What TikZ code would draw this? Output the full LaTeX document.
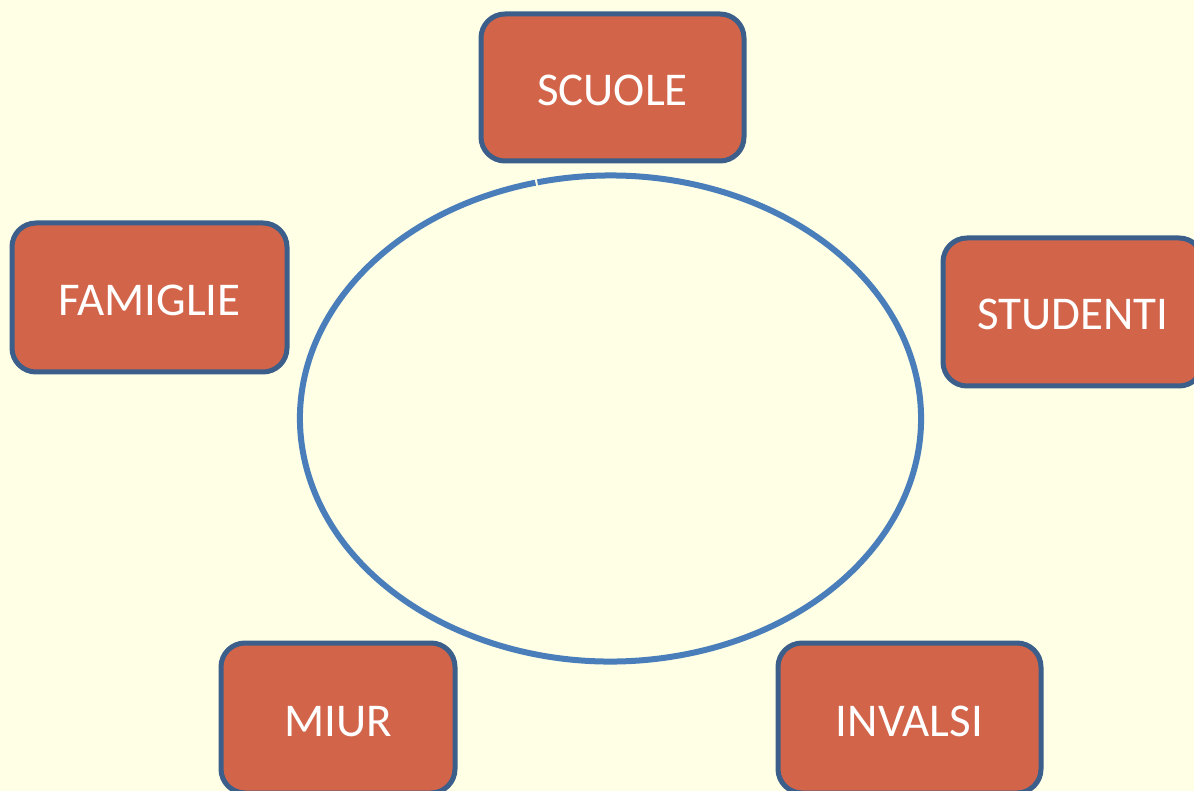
\documentclass[tikz,border=0pt]{standalone}
\usepackage{fontspec}
\setmainfont{Carlito}
\definecolor{bgc}{RGB}{255,255,229}
\definecolor{boxfill}{RGB}{210,100,74}
\definecolor{boxline}{RGB}{60,94,138}
\definecolor{ringc}{RGB}{74,126,187}
\begin{document}
\begin{tikzpicture}[x=1pt,y=-1pt,
  actor/.style={draw=boxline, line width=5pt, fill=boxfill, rounded corners=24pt,
    text=white, font=\fontsize{47}{52}\selectfont, inner sep=0pt, anchor=center,
    text height=36pt, text depth=0pt}]
\path[fill=bgc] (0,0) rectangle (1194,791);
\useasboundingbox (0,0) rectangle (1194,791);
\node[actor, minimum width=263pt, minimum height=147pt] (scuole) at (612.5,87.5) {SCUOLE};
\node[actor, minimum width=275pt, minimum height=149pt] (famiglie) at (149.5,297.5) {FAMIGLIE};
\node[actor, minimum width=260pt, minimum height=148pt] (studenti) at (1073,312) {STUDENTI};
\node[actor, minimum width=234pt, minimum height=150pt] (miur) at (338,718) {MIUR};
\node[actor, minimum width=263pt, minimum height=150pt] (invalsi) at (909.5,718) {INVALSI};
\coordinate (ringc) at (610.5,418.5);
\draw[ringc, line width=6pt] ([shift={(104.0:310.5pt and 243pt)}]ringc) arc[start angle=104.0, end angle=463.6, x radius=310.5pt, y radius=243pt];
\end{tikzpicture}
\end{document}
